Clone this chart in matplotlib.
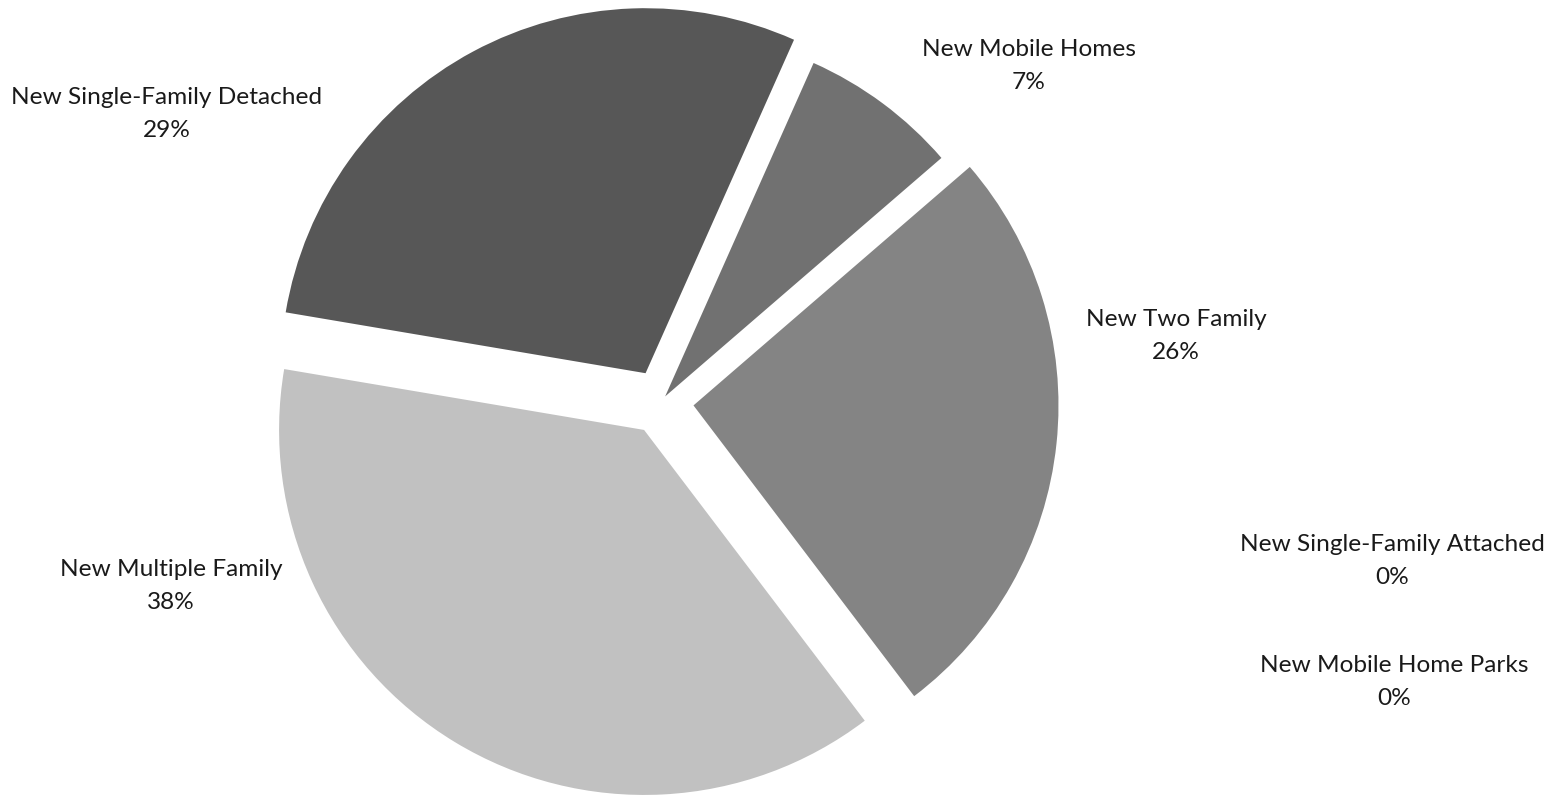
import matplotlib
matplotlib.use("Agg")
import matplotlib.pyplot as plt

# New residential construction by building type
categories = [
    "New Single-Family Detached",
    "New Mobile Homes",
    "New Two Family",
    "New Single-Family Attached",
    "New Mobile Home Parks",
    "New Multiple Family",
]
shares = [29, 7, 26, 0, 0, 38]
pct_labels = ["29%", "7%", "26%", "0%", "0%", "38%"]

colors = ["#575757", "#717171", "#848484", "#a0a0a0", "#b0b0b0", "#c1c1c1"]
# slice offsets as a fraction of the radius
explode_frac = [0.0895, 0.019, 0.0895, 0.0895, 0.0895, 0.0895]

W, H = 1561, 796
fig = plt.figure(figsize=(W / 100, H / 100), dpi=100)
ax = fig.add_axes([0, 0, 1, 1])

cx, cy, r = 661, H - 402, 365
ax.pie(
    shares,
    colors=colors,
    explode=[f * r for f in explode_frac],
    startangle=170.4,
    counterclock=False,
    center=(cx, cy),
    radius=r,
    wedgeprops=dict(linewidth=0),
    frame=True,
)
ax.set_xlim(0, W)
ax.set_ylim(0, H)
ax.set_aspect("equal")
ax.axis("off")

# label anchor points (pixel positions, measured from the top edge)
label_pos = [
    (167, 114),
    (1029, 66),
    (1176, 336),
    (1392, 561),
    (1394, 682),
    (171, 586),
]
for name, pct, (x, y) in zip(categories, pct_labels, label_pos):
    ax.text(
        x, H - y, f"{name}\n{pct}",
        ha="center", va="center", multialignment="center",
        fontsize=17.6, family="Lato", color="#1a1a1a", linespacing=1.65,
    )

fig.savefig("out.png", dpi=100)
